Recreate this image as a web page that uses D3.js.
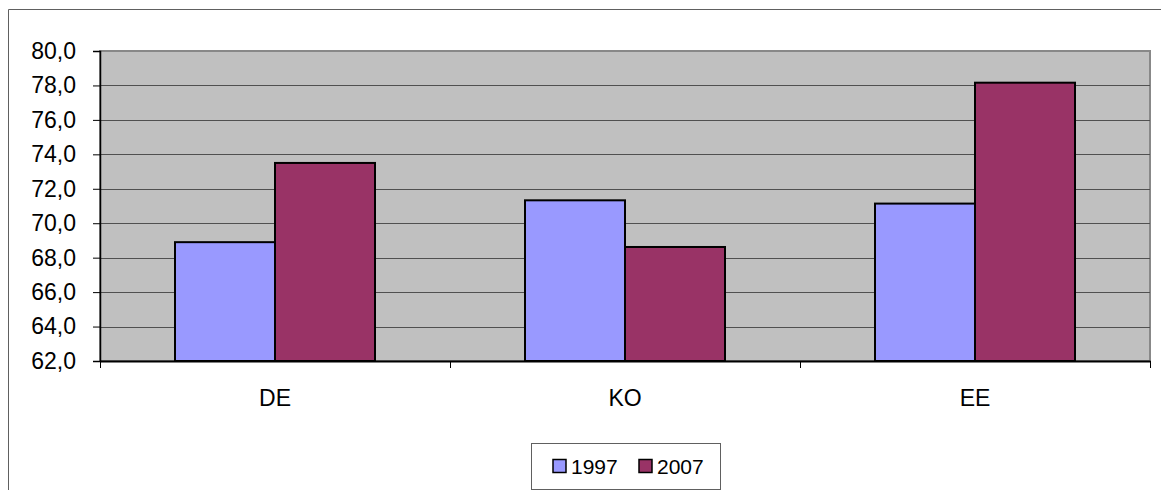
<!DOCTYPE html>
<html>
<head>
<meta charset="utf-8">
<script src="https://cdn.jsdelivr.net/npm/d3@7"></script>
<style>
  body { margin: 0; background: #fff; }
  svg { display: block; font-family: "Liberation Sans", Arial, sans-serif; }
</style>
</head>
<body>
<div id="chart"></div>
<script>
const categories = ["DE", "KO", "EE"];
const seriesNames = ["1997", "2007"];
const values1997 = [68.9, 71.33, 71.14];
const values2007 = [73.5, 68.62, 78.16];
const yTicks = [62, 64, 66, 68, 70, 72, 74, 76, 78, 80];
const colors = ["#9999FF", "#993366"];

const width = 1161;
const height = 490;
const plot = {left: 100, right: 1150, top: 51, bottom: 361};

const svg = d3.select("#chart").append("svg")
  .attr("width", width)
  .attr("height", height);

// outer chart frame (runs off right and bottom edges)
svg.append("path")
  .attr("d", `M8.5,${height + 5} V9.5 H${width + 5}`)
  .attr("fill", "none")
  .attr("stroke", "#606060")
  .attr("stroke-width", 1);

const x = d3.scaleBand()
  .domain(categories)
  .range([plot.left, plot.right]);

const x1 = d3.scaleBand()
  .domain(seriesNames)
  .range([75, x.bandwidth() - 75]);

const y = d3.scaleLinear()
  .domain([62, 80])
  .range([plot.bottom, plot.top]);

// plot background
svg.append("rect")
  .attr("x", plot.left)
  .attr("y", plot.top)
  .attr("width", plot.right - plot.left)
  .attr("height", plot.bottom - plot.top)
  .attr("fill", "#C0C0C0")
  .attr("stroke", "#888")
  .attr("stroke-width", 2);

// gridlines
svg.append("g")
  .selectAll("line")
  .data(yTicks.filter(d => d > 62 && d < 80))
  .join("line")
  .attr("x1", plot.left)
  .attr("x2", plot.right)
  .attr("y1", d => Math.round(y(d)) + 0.5)
  .attr("y2", d => Math.round(y(d)) + 0.5)
  .attr("stroke", "#505050")
  .attr("stroke-width", 1);

// bars
const data = categories.map((c, i) => ({
  cat: c,
  vals: [values1997[i], values2007[i]]
}));

const groups = svg.append("g")
  .selectAll("g")
  .data(data)
  .join("g")
  .attr("transform", d => `translate(${x(d.cat)},0)`);

groups.selectAll("rect")
  .data(d => d.vals.map((v, j) => ({key: seriesNames[j], v: v, j: j})))
  .join("rect")
  .attr("x", d => x1(d.key))
  .attr("y", d => y(d.v))
  .attr("width", x1.bandwidth())
  .attr("height", d => y(62) - y(d.v))
  .attr("fill", d => colors[d.j])
  .attr("stroke", "#000")
  .attr("stroke-width", 2);

// y axis
const yAxis = svg.append("g")
  .attr("transform", `translate(${plot.left},0)`)
  .call(d3.axisLeft(y).tickValues(yTicks).tickSize(7).tickPadding(17)
    .tickFormat(d => d3.format(".1f")(d).replace(".", ",")));
yAxis.select(".domain").attr("stroke", "#000").attr("stroke-width", 1.5);
yAxis.selectAll(".tick line").attr("stroke", "#000");
yAxis.selectAll("text")
  .attr("font-size", "23px")
  .attr("fill", "#000")
  .attr("font-family", "Liberation Sans, Arial, sans-serif");

// x axis
const xAxis = svg.append("g")
  .attr("transform", `translate(0,${plot.bottom})`)
  .call(d3.axisBottom(x).tickSize(0).tickPadding(29));
xAxis.select(".domain").attr("stroke", "#000").attr("stroke-width", 2);
xAxis.selectAll("text")
  .attr("font-size", "23px")
  .attr("fill", "#000")
  .attr("font-family", "Liberation Sans, Arial, sans-serif");

// category boundary ticks
const bounds = [plot.left].concat(categories.map(c => x(c) + x.bandwidth()));
svg.append("g")
  .selectAll("line")
  .data(bounds)
  .join("line")
  .attr("x1", d => d + 0.5)
  .attr("x2", d => d + 0.5)
  .attr("y1", plot.bottom)
  .attr("y2", plot.bottom + 7)
  .attr("stroke", "#000");

// legend
const legend = svg.append("g");
legend.append("rect")
  .attr("x", 531.5)
  .attr("y", 443.5)
  .attr("width", 189)
  .attr("height", 46)
  .attr("fill", "#fff")
  .attr("stroke", "#606060");

const items = legend.selectAll("g.item")
  .data(seriesNames)
  .join("g")
  .attr("class", "item")
  .attr("transform", (d, i) => `translate(${553 + i * 86},0)`);

items.append("rect")
  .attr("x", 0)
  .attr("y", 459.5)
  .attr("width", 13)
  .attr("height", 13)
  .attr("fill", (d, i) => colors[i])
  .attr("stroke", "#000")
  .attr("stroke-width", 1.5);

items.append("text")
  .attr("x", 18)
  .attr("y", 474)
  .attr("font-size", "21px")
  .text(d => d);
</script>
</body>
</html>
